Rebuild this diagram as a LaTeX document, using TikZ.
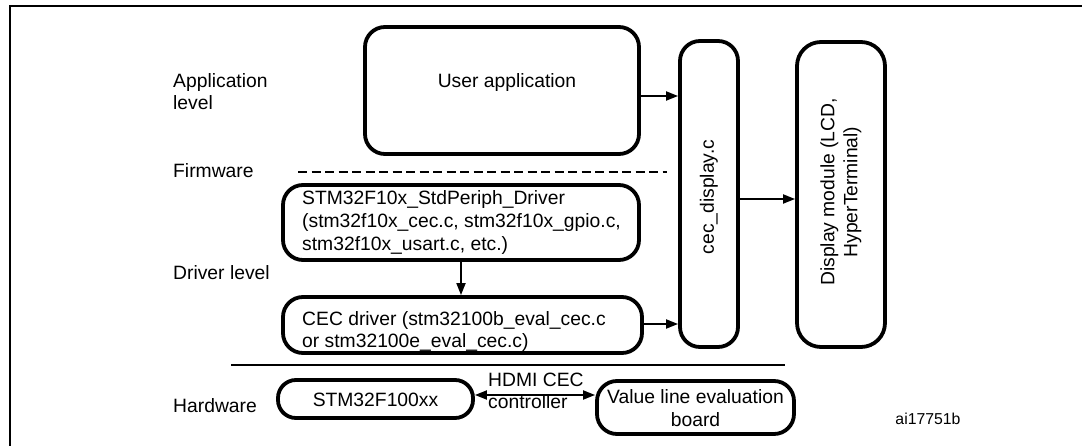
\documentclass[tikz,border=0pt]{standalone}
\usepackage{fontspec}
\setmainfont{Liberation Sans}
\usetikzlibrary{arrows.meta}
\begin{document}
\begin{tikzpicture}[x=1pt,y=-1pt,
  box/.style={draw,line width=3.8pt,rounded corners=20pt,inner sep=0pt},
  lbl/.style={font=\fontsize{19.3}{23}\selectfont,inner sep=0pt},
  txt/.style={lbl,anchor=base west},
  arr/.style={line width=1.8pt,-{Triangle[length=12pt,width=9pt]}},
  darr/.style={line width=1.8pt,{Triangle[length=12pt,width=9pt]}-{Triangle[length=12pt,width=9pt]}},
]
\useasboundingbox (0,0) rectangle (1082,446);
% frame
\coordinate (fbl) at (10,446);
\coordinate (ftl) at (10,6);
\coordinate (ftr) at (1082,6);
\draw[line width=2.5pt] (fbl) -- (ftl) -- (ftr);

% level labels
\node[txt] (app1) at (173,88) {Application};
\node[txt] (app2) at (173,110) {level};
\node[txt] (fw) at (173,178) {Firmware};
\node[txt] (drv) at (173,280) {Driver level};
\node[txt] (hw) at (173,412) {Hardware};

% boxes
\node[box,minimum width=274pt,minimum height=127pt] (ua) at (502,90.5) {};
\node[lbl,anchor=base] (uat) at (507,88) {User application};

\node[box,minimum width=58pt,minimum height=306pt] (cec) at (709,194) {};
\node[lbl,rotate=90] (cect) at (709,197) {cec\_display.c};

\node[box,minimum width=88pt,minimum height=305pt,rounded corners=24pt] (dm) at (841,194.5) {};
\node[lbl,rotate=90,align=center] (dmt) at (841,192) {Display module (LCD,\\HyperTerminal)};

\node[box,minimum width=356pt,minimum height=75pt] (std) at (461,222.5) {};
\node[txt] (std1) at (302,205) {STM32F10x\_StdPeriph\_Driver};
\node[txt] (std2) at (302,228) {(stm32f10x\_cec.c, stm32f10x\_gpio.c,};
\node[txt] (std3) at (302,251) {stm32f10x\_usart.c, etc.)};

\node[box,minimum width=359pt,minimum height=56pt] (cd) at (462.5,325) {};
\node[txt] (cd1) at (302,326) {CEC driver (stm32100b\_eval\_cec.c};
\node[txt] (cd2) at (302,348) {or stm32100e\_eval\_cec.c)};

\node[box,minimum width=195pt,minimum height=38pt,rounded corners=18pt] (mcu) at (375.5,399) {};
\node[lbl] (mcut) at (375.5,400) {STM32F100xx};

\node[box,minimum width=197pt,minimum height=53pt] (vb) at (695.5,407.5) {};
\node[lbl,align=center] (vbt) at (695.5,408) {Value line evaluation\\board};

\node[txt] (hd1) at (488,387) {HDMI CEC};
\node[txt] (hd2) at (488,408) {controller};

\node[lbl,font=\fontsize{15.8}{18}\selectfont] (id) at (928,419) {ai17751b};

% separators
\coordinate (dsa) at (298,172);
\coordinate (dsb) at (667,172);
\draw[line width=1.8pt,dash pattern=on 9pt off 4.5pt] (dsa) -- (dsb);
\coordinate (sla) at (231,365);
\coordinate (slb) at (785,365);
\draw[line width=2.5pt] (sla) -- (slb);

% connectors
\draw[arr] (ua.east |- 0,96) -- (cec.west |- 0,96);
\draw[arr] (cec.east |- 0,199) -- (dm.west |- 0,199);
\draw[arr] (std.south) -- (cd.north -| std.south);
\draw[arr] (cd.east |- 0,324) -- (cec.west |- 0,324);
\draw[darr] (mcu.east |- 0,395) -- (vb.west |- 0,395);
\end{tikzpicture}
\end{document}
